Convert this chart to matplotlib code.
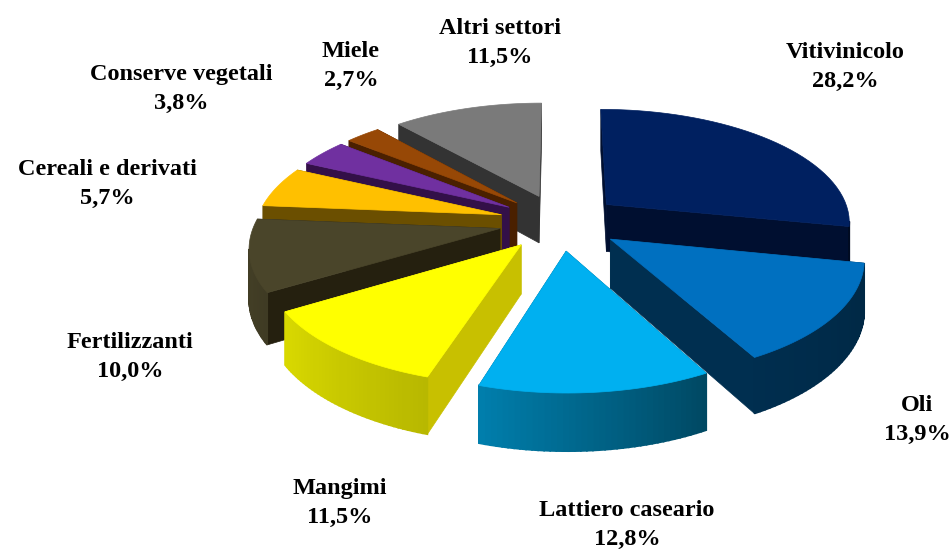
import numpy as np
import matplotlib
matplotlib.use('Agg')
import matplotlib.pyplot as plt

# pie data, clockwise from 12 o'clock
sectors = ['Vitivinicolo', 'Oli', 'Lattiero caseario', 'Mangimi', 'Fertilizzanti',
           'Cereali e derivati', 'Conserve vegetali', 'Miele', 'Altri settori']
shares = [28.2, 13.9, 12.8, 11.5, 10.0, 5.7, 3.8, 2.7, 11.5]

top_colors = ['#002060', '#0070C0', '#00B0F0', '#FFFF00', '#4A452A',
              '#FFC000', '#7030A0', '#974806', '#7A7A7A']
cut_colors = ['#000F30', '#002F50', '#005A78', '#C8C000', '#25200F',
              '#6B4F00', '#331048', '#4A2000', '#333333']

# label centres in pixels
label_x = [845, 917, 627, 340, 130, 107, 181, 351, 500]
label_y = [67, 420, 525, 503, 357, 184, 89, 66, 43]

# projection of the tilted pie
CX, CY = 560, 222
RX, RY = 245, 113
PERSP = 0.14
WALL = 48
EXPLODE = 0.25

# wall brightness against rim angle, from the light on the left of the front
light_angle = [0, 100, 151, 197, 253, 360]
light_level = [0.7, 0.35, 0.41, 0.72, 0.9, 0.7]


def project(x, y, z=0.0):
    w = 1 + PERSP * y
    return CX + RX * x / w, CY - RY * y / w + z * WALL / w


def shade(color, level):
    return np.array(matplotlib.colors.to_rgb(color)) * level


fig = plt.figure(figsize=(9.52, 5.51), dpi=100)
ax = fig.add_axes([0, 0, 1, 1])
ax.set_xlim(0, 952)
ax.set_ylim(551, 0)
ax.axis('off')

edges = np.concatenate([[0], np.cumsum(shares)]) / np.sum(shares) * 2 * np.pi
mids = (edges[:-1] + edges[1:]) / 2

# back slices first, painter style
order = np.argsort(-np.cos(mids))
for i in order:
    off_x, off_y = EXPLODE * np.sin(mids[i]), EXPLODE * np.cos(mids[i])
    th = np.linspace(edges[i], edges[i + 1], 40)
    rim_x, rim_y = off_x + np.sin(th), off_y + np.cos(th)

    # the two cut faces
    for k in (0, -1):
        xs = np.array([off_x, rim_x[k], rim_x[k], off_x])
        ys = np.array([off_y, rim_y[k], rim_y[k], off_y])
        px, py = project(xs, ys, np.array([0, 0, 1, 1]))
        ax.fill(px, py, color=cut_colors[i], lw=0.5)

    # outer wall, strip by strip for the gradient, only where it faces us
    for j in range(len(th) - 1):
        xs = np.array([rim_x[j], rim_x[j + 1], rim_x[j + 1], rim_x[j]])
        ys = np.array([rim_y[j], rim_y[j + 1], rim_y[j + 1], rim_y[j]])
        px, py = project(xs, ys, np.array([0, 0, 1, 1]))
        if px[1] >= px[0]:
            continue
        level = np.interp(np.degrees(th[j]), light_angle, light_level)
        ax.fill(px, py, color=shade(top_colors[i], level), lw=1.2)

    # top face
    px, py = project(np.r_[off_x, rim_x], np.r_[off_y, rim_y])
    ax.fill(px, py, color=top_colors[i], lw=0.5)

for name, share, x, y in zip(sectors, shares, label_x, label_y):
    pct = f'{share:.1f}'.replace('.', ',') + '%'
    ax.text(x, y, f'{name}\n{pct}', ha='center', va='center', fontsize=17.5,
            family='Liberation Serif', fontweight='bold', linespacing=1.45,
            color='black')

fig.savefig('out.png', dpi=100)
